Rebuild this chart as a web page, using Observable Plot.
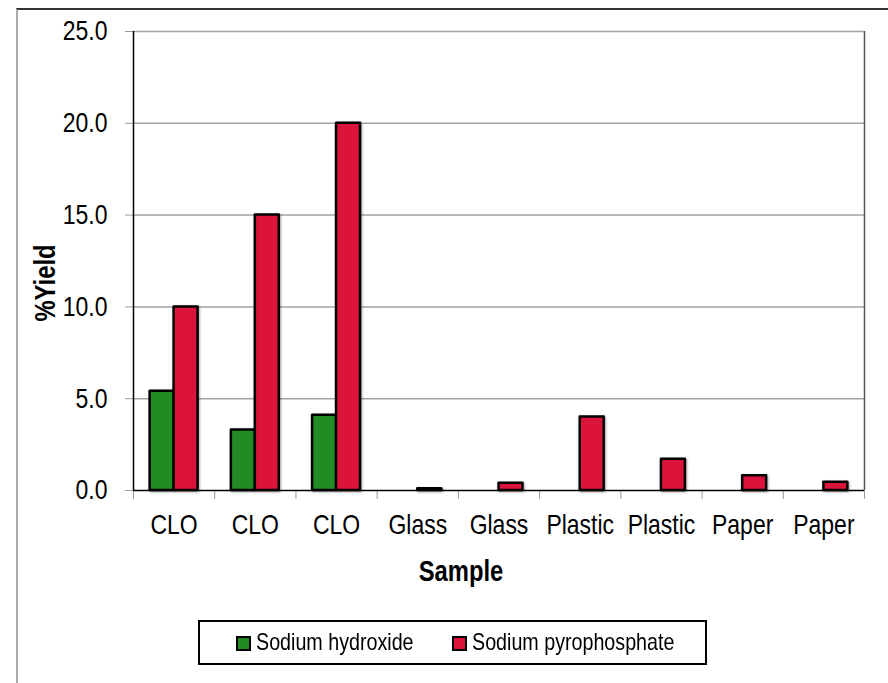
<!DOCTYPE html>
<html>
<head>
<meta charset="utf-8">
<script src="https://cdn.jsdelivr.net/npm/d3@7"></script>
<script src="https://cdn.jsdelivr.net/npm/@observablehq/plot@0.6"></script>
<style>
  html, body { margin: 0; padding: 0; background: #fff; }
  #wrap { position: relative; width: 888px; height: 683px; overflow: hidden;
          font-family: "Liberation Sans", Arial, sans-serif; }
  #frame { position: absolute; left: 16px; top: 8px; right: -4px; bottom: -4px;
           border-top: 2px solid #333; border-left: 2px solid #aaa; pointer-events: none; }
  #chart { position: absolute; left: 0; top: 0; }
  #legend { position: absolute; left: 198px; top: 620px; width: 505px; height: 41px;
            border: 2px solid #000; font-size: 24px; color: #000; box-sizing: content-box; }
  .sw { position: absolute; top: 14px; width: 11px; height: 11px; border: 2px solid #000; }
  .lab { position: absolute; top: 6px; white-space: nowrap; transform-origin: left center; transform: scaleX(0.82); line-height: 28px; }
</style>
</head>
<body>
<div id="wrap">
  <div id="frame"></div>
  <div id="chart"></div>
  <div id="legend"></div>
</div>
<script>
const samples = ["CLO", "CLO", "CLO", "Glass", "Glass", "Plastic", "Plastic", "Paper", "Paper"];
const sodiumHydroxide = [5.4, 3.3, 4.1, null, null, null, null, null, null];
const sodiumPyrophosphate = [10.0, 15.0, 20.0, 0.1, 0.4, 4.0, 1.7, 0.8, 0.45];
const seriesNames = ["Sodium hydroxide", "Sodium pyrophosphate"];
const seriesColors = ["#238b23", "#dc143c"];
const yTicks = [0, 5, 10, 15, 20, 25];

const fontFamily = '"Liberation Sans", Arial, sans-serif';
const narrow = 0.82; // narrow-font look: glyphs compressed horizontally

// table built from the arrays: each bar occupies one half of a centred group in its category
const groupFrac = 0.59;
const edge = (1 - groupFrac) / 2;
const rows = [];
samples.forEach((s, i) => {
  [sodiumHydroxide, sodiumPyrophosphate].forEach((vals, k) => {
    if (vals[i] == null) return;
    rows.push({i, sample: s, series: seriesNames[k], value: vals[i],
               x1: i + edge + k * groupFrac / 2, x2: i + edge + (k + 1) * groupFrac / 2});
  });
});

const chart = Plot.plot({
  width: 888,
  height: 610,
  marginLeft: 133,
  marginRight: 24,
  marginTop: 31,
  marginBottom: 120,
  style: {fontFamily, background: "transparent", color: "#000", overflow: "visible"},
  x: {domain: [0, samples.length]},
  y: {domain: [0, 25]},
  color: {domain: seriesNames, range: seriesColors},
  marks: [
    Plot.gridY(yTicks.slice(1), {stroke: "#a3a3a3", strokeOpacity: 1, strokeWidth: 1.5}),
    Plot.axisY(yTicks, {tickSize: 8, tickPadding: 18, tickFormat: d => d.toFixed(1),
                        fontSize: 28, stroke: "#999", fill: "#000", label: null}),
    Plot.axisX(d3.range(samples.length + 1), {tickSize: 9, tickFormat: () => "", stroke: "#999", label: null}),
    Plot.axisX(samples.map((_, i) => i + 0.5), {tickSize: 0, tickPadding: 24,
                        tickFormat: d => samples[Math.floor(d)], fontSize: 28, fill: "#000", label: null}),
    Plot.ruleX([samples.length], {stroke: "#555", strokeWidth: 1.5}),
    Plot.ruleX([0], {stroke: "#000", strokeWidth: 1.5}),
    Plot.ruleY([0], {stroke: "#000", strokeWidth: 1.5}),
    Plot.rectY(rows, {x1: "x1", x2: "x2", y1: 0, y2: "value", fill: "series",
                      stroke: "#000", strokeWidth: 2.5, strokeLinejoin: "round"}),
    Plot.text(["Sample"], {frameAnchor: "bottom", dy: 90, dx: -38, fontSize: 29, fontWeight: "bold", fill: "#000"}),
    Plot.text(["%Yield"], {frameAnchor: "left", textAnchor: "middle", dx: -88, dy: 22, rotate: -90,
                           fontSize: 29, fontWeight: "bold", fill: "#000"})
  ]
});
chart.querySelectorAll('[aria-label="rect"]').forEach(g => g.style.filter = "drop-shadow(1px 1px 1px rgba(0,0,0,0.35))");
document.getElementById("chart").appendChild(chart);

// compress text horizontally to mimic the narrow typeface
chart.querySelectorAll("text").forEach(t => {
  const len = t.getComputedTextLength();
  if (len > 0) {
    t.setAttribute("textLength", (len * narrow).toFixed(2));
    t.setAttribute("lengthAdjust", "spacingAndGlyphs");
  }
});

const legend = document.getElementById("legend");
const swatchLeft = [36, 252];
seriesNames.forEach((name, k) => {
  const sw = document.createElement("div");
  sw.className = "sw";
  sw.style.left = swatchLeft[k] + "px";
  sw.style.background = seriesColors[k];
  const label = document.createElement("div");
  label.className = "lab";
  label.style.left = (swatchLeft[k] + 20) + "px";
  label.textContent = name;
  legend.appendChild(sw);
  legend.appendChild(label);
});
</script>
</body>
</html>
